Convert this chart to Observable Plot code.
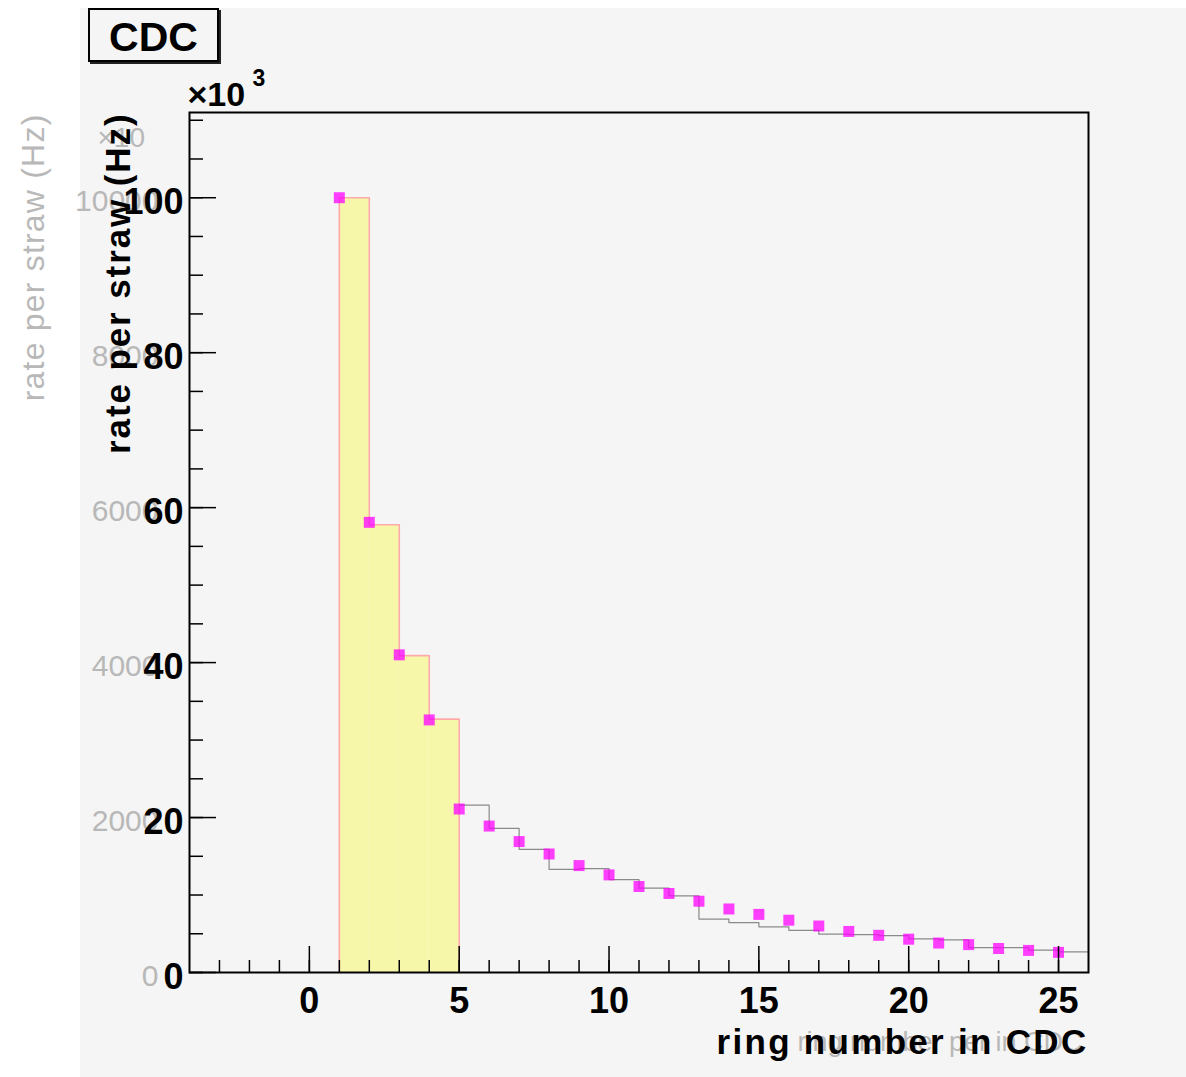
<!DOCTYPE html>
<html>
<head>
<meta charset="utf-8">
<script src="https://cdn.jsdelivr.net/npm/d3@7"></script>
<script src="https://cdn.jsdelivr.net/npm/@observablehq/plot@0.6"></script>
<style>
html, body { margin: 0; padding: 0; background: #ffffff; }
#wrap { position: relative; width: 1186px; height: 1077px; overflow: hidden; }
#bg { position: absolute; left: 80px; top: 8px; right: 0; bottom: 0; background: #f5f5f5; }
#chart { position: absolute; left: 0; top: 0; }
#title { position: absolute; left: 88px; top: 8px; width: 127px; height: 46px; padding-top: 4px;
  border: 2px solid #000; box-shadow: 2px 2px 0 #222; background: #f5f5f5;
  font: bold 41px "Liberation Sans", Arial, sans-serif; color: #000;
  display: flex; align-items: center; justify-content: center; }
</style>
</head>
<body>
<div id="wrap">
  <div id="bg"></div>
  <div id="chart"></div>
  <div id="title">CDC</div>
</div>
<script>
// ---- data (rates in units of 10^3 Hz) ----
const filledBinStart = [1, 2, 3, 4];
const filledBinRate = [100, 57.8, 40.9, 32.7];

const lineBinStart = [5, 6, 7, 8, 9, 10, 11, 12, 13, 14, 15, 16, 17, 18, 19, 20, 21, 22, 23, 24, 25];
const lineBinRate = [21.6, 18.6, 15.9, 13.3, 13.4, 12.0, 10.9, 9.9, 6.9, 6.45, 5.9, 5.45, 4.95, 4.9, 4.75, 4.35, 4.2, 3.2, 3.2, 2.9, 2.65];

const markerRing = [1, 2, 3, 4, 5, 6, 7, 8, 9, 10, 11, 12, 13, 14, 15, 16, 17, 18, 19, 20, 21, 22, 23, 24, 25];
const markerRate = [100, 58.1, 41.0, 32.6, 21.1, 18.9, 16.9, 15.3, 13.8, 12.6, 11.1, 10.2, 9.2, 8.2, 7.5, 6.75, 6.0, 5.3, 4.8, 4.3, 3.8, 3.6, 3.1, 2.85, 2.6];

const xMajorTicks = [0, 5, 10, 15, 20, 25];
const xMinorTicks = [-3, -2, -1, 0, 1, 2, 3, 4, 5, 6, 7, 8, 9, 10, 11, 12, 13, 14, 15, 16, 17, 18, 19, 20, 21, 22, 23, 24, 25];
const yMajorTicks = [0, 20, 40, 60, 80, 100];
const yMinorTicks = [0, 5, 10, 15, 20, 25, 30, 35, 40, 45, 50, 55, 60, 65, 70, 75, 80, 85, 90, 95, 100, 105, 110];
const yMajorLabels = ["0", "20", "40", "60", "80", "100"];
const ghostYLabels = ["0", "2000", "4000", "6000", "8000", "10000"];

const xTitle = "ring number in CDC";
const yTitle = "rate per straw (Hz)";
const ghostXTitle = "ring number per in CDC";
const ghostYTitle = "rate per straw (Hz)";
const ghostExponent = "×10";
const exponentBase = "×10";
const exponentPower = "3";
const xDomain = [-4, 26];
const yDomain = [0, 111];

// ---- derived tables ----
const filledBins = filledBinStart.map((s, i) => ({x1: s, x2: s + 1, rate: filledBinRate[i]}));
const outline = [];
filledBins.forEach((b, i) => {
  if (i === 0) outline.push({x: b.x1, y: 0});
  outline.push({x: b.x1, y: b.rate});
  outline.push({x: b.x2, y: b.rate});
});
outline.push({x: filledBins[filledBins.length - 1].x2, y: 0});

const stepPts = lineBinStart.map((s, i) => ({x: s, y: lineBinRate[i]}));
stepPts.push({x: lineBinStart[lineBinStart.length - 1] + 1, y: lineBinRate[lineBinRate.length - 1]});

const markers = markerRing.map((r, i) => ({ring: r, rate: markerRate[i]}));
const yLab = yMajorTicks.map((v, i) => ({v, label: yMajorLabels[i], ghost: ghostYLabels[i]}));

const ghost = "#b8b8b8";
const font = "'Liberation Sans', Arial, Helvetica, sans-serif";

const chart = Plot.plot({
  width: 1186,
  height: 1077,
  marginLeft: 189,
  marginRight: 98,
  marginTop: 112,
  marginBottom: 105,
  style: {background: "transparent", fontFamily: font, color: "#000", overflow: "visible"},
  x: {domain: xDomain},
  y: {domain: yDomain},
  marks: [
    Plot.rect(filledBins, {x1: "x1", x2: "x2", y1: 0, y2: "rate", fill: "#f7f7aa"}),
    Plot.line(outline, {x: "x", y: "y", stroke: "#ffaaaa", strokeWidth: 1.6}),
    Plot.line(stepPts, {x: "x", y: "y", curve: "step-after", stroke: "#8a8a8a", strokeWidth: 1.2}),
    Plot.dot(markers, {x: "ring", y: "rate", symbol: "square", r: 6.2, fill: "#ff00ff", fillOpacity: 0.75}),
    // ticks (inward)
    Plot.axisX(xMinorTicks, {tickSize: -12, tickFormat: () => "", label: null, strokeWidth: 1.5}),
    Plot.axisX(xMajorTicks, {tickSize: -26, tickFormat: () => "", label: null, strokeWidth: 1.5}),
    Plot.axisY(yMinorTicks, {tickSize: -14, tickFormat: () => "", label: null, strokeWidth: 1.5}),
    Plot.axisY(yMajorTicks, {tickSize: -27, tickFormat: () => "", label: null, strokeWidth: 1.5}),
    Plot.frame({stroke: "#000", strokeWidth: 2}),
    // ghost (faint) overlapping texts
    Plot.text(yLab, {y: "v", text: "ghost", frameAnchor: "left", textAnchor: "end", dx: -31, dy: 4, fontSize: 30, fill: ghost}),
    Plot.text([ghostYTitle], {text: d => d, frameAnchor: "top-left", rotate: -90, textAnchor: "end", lineAnchor: "middle", dx: -156, dy: 1, fontSize: 32, fill: ghost}),
    Plot.text([ghostExponent], {text: d => d, frameAnchor: "top-left", textAnchor: "start", lineAnchor: "middle", dx: -92, dy: 26, fontSize: 28, fill: ghost}),
    Plot.text([ghostXTitle], {text: d => d, frameAnchor: "bottom-right", textAnchor: "end", lineAnchor: "bottom", dx: -6, dy: 78, fontSize: 27, fill: ghost}),
    // tick labels
    Plot.text(yLab, {y: "v", text: "label", frameAnchor: "left", textAnchor: "end", dx: -6, dy: 5, fontSize: 36, fontWeight: "bold", fill: "#000"}),
    Plot.text(xMajorTicks, {x: d => d, text: d => String(d), frameAnchor: "bottom", lineAnchor: "top", dy: 15, fontSize: 36, fontWeight: "bold", fill: "#000"}),
    // titles
    Plot.text([yTitle], {text: d => d, frameAnchor: "top-left", rotate: -90, textAnchor: "end", lineAnchor: "middle", dx: -71, dy: 0, fontSize: 35, fontWeight: "bold", fill: "#000"}),
    Plot.text([xTitle], {text: d => d, frameAnchor: "bottom-right", textAnchor: "end", lineAnchor: "bottom", dx: 0, dy: 81, fontSize: 35, fontWeight: "bold", fill: "#000"}),
    Plot.text([exponentBase], {text: d => d, frameAnchor: "top-left", textAnchor: "start", lineAnchor: "bottom", dx: -2, dy: -7, fontSize: 34, fontWeight: "bold", fill: "#000"}),
    Plot.text([exponentPower], {text: d => d, frameAnchor: "top-left", textAnchor: "start", lineAnchor: "top", dx: 63, dy: -43, fontSize: 23, fontWeight: "bold", fill: "#000"})
  ]
});

for (const t of chart.querySelectorAll("text")) {
  if (t.textContent === xTitle) t.style.letterSpacing = "2.3px";
}
for (const g of chart.querySelectorAll("g")) {
  const bold = g.getAttribute("font-weight") === "bold";
  for (const t of g.querySelectorAll("text")) {
    if (t.textContent === yTitle) t.style.letterSpacing = bold ? "1.9px" : "1.2px";
  }
}
document.getElementById("chart").appendChild(chart);
</script>
</body>
</html>
